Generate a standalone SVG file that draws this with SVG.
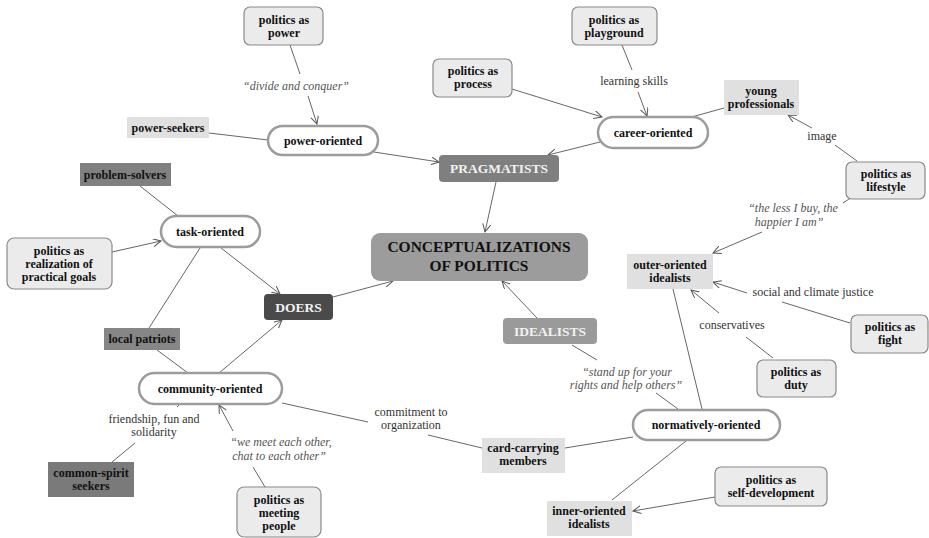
<svg xmlns="http://www.w3.org/2000/svg" width="929" height="538" viewBox="0 0 929 538" font-family="'Liberation Serif', 'DejaVu Serif', serif">
<defs>
<marker id="arr" markerUnits="userSpaceOnUse" markerWidth="10" markerHeight="10" refX="8" refY="4" orient="auto">
<path d="M0,0 L8,4 L0,8" fill="none" stroke="#555" stroke-width="1"/>
</marker>
<style>
text{font-family:'Liberation Serif','DejaVu Serif',serif;text-anchor:middle}
.n{font-size:12px;font-weight:bold;fill:#111}
.lb{font-size:12px;fill:#333}
.it{font-size:12px;font-style:italic;fill:#555}
.rr{fill:#ebebeb;stroke:#8a8a8a;stroke-width:1.2}
.lt{fill:#e0e0e0}
.dk{fill:#808080}
.pill{fill:#fff;stroke:#9c9c9c;stroke-width:2.5}
.cat{font-size:13.5px;font-weight:bold;fill:#f2f2f2}
#connectors line{stroke:#555;stroke-width:0.9;fill:none}
</style>
</defs>
<rect width="929" height="538" fill="#fff"/>

<g id="connectors">
<line x1="290" y1="45" x2="300" y2="74"/>
<line x1="308" y1="96" x2="317" y2="124" marker-end="url(#arr)"/>
<line x1="209" y1="133" x2="268" y2="140"/>
<line x1="374" y1="152" x2="439" y2="162" marker-end="url(#arr)"/>
<line x1="512" y1="89" x2="602" y2="117" marker-end="url(#arr)"/>
<line x1="622" y1="45" x2="632" y2="70"/>
<line x1="638" y1="92" x2="647" y2="116" marker-end="url(#arr)"/>
<line x1="724" y1="108" x2="688" y2="118"/>
<line x1="857" y1="161" x2="835" y2="145"/>
<line x1="812" y1="128" x2="788" y2="115" marker-end="url(#arr)"/>
<line x1="600" y1="142" x2="548" y2="155" marker-end="url(#arr)"/>
<line x1="496" y1="182" x2="485" y2="232" marker-end="url(#arr)"/>
<line x1="140" y1="186" x2="178" y2="216"/>
<line x1="112" y1="252" x2="161" y2="241" marker-end="url(#arr)"/>
<line x1="221" y1="248" x2="280" y2="294" marker-end="url(#arr)"/>
<line x1="200" y1="248" x2="149" y2="328"/>
<line x1="333" y1="297" x2="393" y2="281" marker-end="url(#arr)"/>
<line x1="157" y1="350" x2="188" y2="373"/>
<line x1="219" y1="373" x2="282" y2="320" marker-end="url(#arr)"/>
<line x1="537" y1="318" x2="502" y2="281" marker-end="url(#arr)"/>
<line x1="572" y1="345" x2="597" y2="360"/>
<line x1="656" y1="393" x2="678" y2="409"/>
<line x1="702" y1="409" x2="673" y2="289"/>
<line x1="852" y1="197" x2="843" y2="203"/>
<line x1="762" y1="232" x2="713" y2="253" marker-end="url(#arr)"/>
<line x1="850" y1="323" x2="782" y2="302"/>
<line x1="747" y1="293" x2="713" y2="282" marker-end="url(#arr)"/>
<line x1="773" y1="358" x2="746" y2="337"/>
<line x1="719" y1="313" x2="691" y2="290" marker-end="url(#arr)"/>
<line x1="282" y1="403" x2="368" y2="422"/>
<line x1="428" y1="435" x2="482" y2="448"/>
<line x1="565" y1="448" x2="633" y2="437"/>
<line x1="686" y1="441" x2="612" y2="500"/>
<line x1="715" y1="497" x2="633" y2="511" marker-end="url(#arr)"/>
<line x1="180" y1="404" x2="177" y2="407"/>
<line x1="135" y1="443" x2="112" y2="462"/>
<line x1="265" y1="487" x2="253" y2="467"/>
<line x1="233" y1="431" x2="219" y2="405" marker-end="url(#arr)"/>
</g>

<g id="edge-labels">
<text class="it" x="296" y="90">“divide and conquer”</text>
<text class="lb" x="634" y="85">learning skills</text>
<text class="lb" x="822" y="140">image</text>
<text class="it" x="793" y="212">“the less I buy, the</text>
<text class="it" x="789" y="226">happier I am”</text>
<text class="lb" x="813" y="296">social and climate justice</text>
<text class="lb" x="732" y="329">conservatives</text>
<text class="it" x="627" y="376">“stand up for your</text>
<text class="it" x="626" y="389">rights and help others”</text>
<text class="lb" x="411" y="416">commitment to</text>
<text class="lb" x="411" y="429">organization</text>
<text class="lb" x="154" y="423">friendship, fun and</text>
<text class="lb" x="154" y="436">solidarity</text>
<text class="it" x="281" y="446">“we meet each other,</text>
<text class="it" x="279" y="460">chat to each other”</text>
</g>

<g id="politics-as-power"><rect class="rr" x="244" y="7" width="79" height="38" rx="6"/><text class="n" x="284" y="24">politics as</text><text class="n" x="284" y="37">power</text></g>
<g id="politics-as-playground"><rect class="rr" x="572" y="7" width="85" height="38" rx="6"/><text class="n" x="614" y="24">politics as</text><text class="n" x="614" y="37">playground</text></g>
<g id="politics-as-process"><rect class="rr" x="433" y="59" width="79" height="38" rx="6"/><text class="n" x="473" y="75">politics as</text><text class="n" x="473" y="88">process</text></g>
<g id="young-professionals"><rect class="lt" x="724" y="80" width="75" height="35"/><text class="n" x="761" y="95">young</text><text class="n" x="761" y="108">professionals</text></g>
<g id="power-seekers"><rect class="lt" x="127" y="117" width="82" height="21"/><text class="n" x="168" y="132">power-seekers</text></g>
<g id="power-oriented"><rect class="pill" x="268" y="126" width="110" height="29" rx="14.5"/><text class="n" x="323" y="145">power-oriented</text></g>
<g id="career-oriented"><rect class="pill" x="598" y="117" width="110" height="31" rx="15.5"/><text class="n" x="653" y="137">career-oriented</text></g>
<g id="pragmatists"><rect x="439" y="155" width="120" height="27" rx="4" fill="#7f7f7f"/><text class="cat" x="499" y="173">PRAGMATISTS</text></g>
<g id="politics-as-lifestyle"><rect class="rr" x="846" y="162" width="79" height="37" rx="6"/><text class="n" x="886" y="178">politics as</text><text class="n" x="886" y="191">lifestyle</text></g>
<g id="problem-solvers"><rect class="dk" x="80" y="163" width="91" height="23"/><text class="n" x="125" y="179">problem-solvers</text></g>
<g id="task-oriented"><rect class="pill" x="161" y="216" width="99" height="31" rx="15.5"/><text class="n" x="210" y="236">task-oriented</text></g>
<g id="politics-as-realization"><rect class="rr" x="7" y="238" width="105" height="51" rx="7"/><text class="n" x="59" y="255">politics as</text><text class="n" x="59" y="268">realization of</text><text class="n" x="59" y="281">practical goals</text></g>
<g id="conceptualizations"><rect x="371" y="233" width="217" height="48" rx="9" fill="#9c9c9c"/><text x="479" y="252" font-size="15.5" font-weight="bold" fill="#111">CONCEPTUALIZATIONS</text><text x="479" y="271" font-size="15.5" font-weight="bold" fill="#111">OF POLITICS</text></g>
<g id="outer-oriented-idealists"><rect class="lt" x="627" y="254" width="86" height="35"/><text class="n" x="670" y="269">outer-oriented</text><text class="n" x="670" y="282">idealists</text></g>
<g id="doers"><rect x="264" y="294" width="69" height="26" rx="4" fill="#4a4a4a"/><text class="cat" x="298.5" y="312" font-size="14">DOERS</text></g>
<g id="idealists"><rect x="503" y="318" width="94" height="26" rx="4" fill="#9a9a9a"/><text class="cat" x="550" y="336">IDEALISTS</text></g>
<g id="politics-as-fight"><rect class="rr" x="851" y="315" width="77" height="38" rx="6"/><text class="n" x="890" y="331">politics as</text><text class="n" x="890" y="344">fight</text></g>
<g id="local-patriots"><rect x="104" y="328" width="76" height="22" fill="#868686"/><text class="n" x="142" y="343">local patriots</text></g>
<g id="community-oriented"><rect class="pill" x="139" y="373" width="143" height="31" rx="15.5"/><text class="n" x="210" y="393">community-oriented</text></g>
<g id="politics-as-duty"><rect class="rr" x="757" y="360" width="79" height="37" rx="6"/><text class="n" x="796" y="376">politics as</text><text class="n" x="796" y="389">duty</text></g>
<g id="normatively-oriented"><rect class="pill" x="633" y="410" width="147" height="30" rx="15"/><text class="n" x="706" y="429">normatively-oriented</text></g>
<g id="card-carrying-members"><rect class="lt" x="482" y="438" width="83" height="35"/><text class="n" x="523" y="452">card-carrying</text><text class="n" x="523" y="465">members</text></g>
<g id="common-spirit-seekers"><rect x="48" y="462" width="86" height="35" fill="#7a7a7a"/><text class="n" x="91" y="477">common-spirit</text><text class="n" x="91" y="490">seekers</text></g>
<g id="politics-as-meeting-people"><rect class="rr" x="237" y="487" width="84" height="50" rx="7"/><text class="n" x="279" y="504">politics as</text><text class="n" x="279" y="517">meeting</text><text class="n" x="279" y="530">people</text></g>
<g id="politics-as-self-development"><rect class="rr" x="715" y="467" width="112" height="39" rx="6"/><text class="n" x="771" y="484">politics as</text><text class="n" x="771" y="497">self-development</text></g>
<g id="inner-oriented-idealists"><rect class="lt" x="547" y="501" width="85" height="35"/><text class="n" x="589" y="515">inner-oriented</text><text class="n" x="589" y="528">idealists</text></g>
</svg>
